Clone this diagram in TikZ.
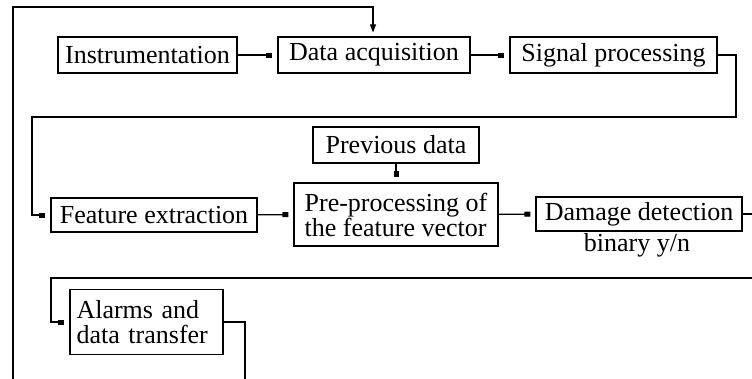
\documentclass[tikz,border=0pt]{standalone}
\usepackage{fontspec}
\setmainfont{Liberation Serif}
\usetikzlibrary{arrows.meta}
\begin{document}
\begin{tikzpicture}[x=1pt,y=-1pt,
  every node/.style={font=\fontsize{26}{28}\selectfont},
  box/.style={draw, line width=1.1pt, inner sep=3pt, minimum height=36pt},
  conn/.style={line width=1.1pt},
  mk/.style={conn, -{Rectangle[length=6pt,width=5pt]}, shorten >=5pt},
  tri/.style={conn, -{Triangle[length=8pt,width=6pt]}, shorten >=4pt}]
\clip (0,0) rectangle (752,378);
\fill[white] (0,0) rectangle (752,378);
\node[box, minimum width=179pt] (instr) at (147.5,55) {Instrumentation};
\node[box, minimum width=192pt] (daq) at (374,55) {Data acquisition};
\node[box, minimum width=207pt] (sig) at (613.5,55) {Signal processing};
\node[box, minimum width=206pt, minimum height=34pt] (feat) at (154,215) {Feature extraction};
\node[box, minimum width=166pt] (prev) at (396,145) {Previous data};
\node[box, minimum width=204pt, minimum height=63pt, align=left] (pre) at (396,214.5) {Pre-processing of\\[-3pt]the feature vector};
\node[box, minimum width=206pt, minimum height=34pt] (dmg) at (639,214) {Damage detection};
\node (bin) at (637,245) {binary y/n};
\node[box, minimum width=153pt, minimum height=65pt, align=left, text width=140pt] (alarm) at (146.5,322) {Alarms and\\[-3pt]data transfer};
% outer loop
\coordinate (ob) at (13,390);
\coordinate (ot) at (373,7);
\draw[tri] (ob) |- (ot) -- (ot |- daq.north);
\draw[mk] (instr) -- (daq);
\draw[mk] (daq) -- (sig);
\coordinate (s1) at (736,117);
\coordinate (s2) at (32,117);
\draw[mk] (sig.east) -| (s1) -- (s2) |- (feat.west);
\draw[mk] (feat) -- (pre);
\draw[mk] (prev) -- (pre);
\draw[mk] (pre) -- (dmg);
\coordinate (d1) at (51,278);
\draw[mk] (dmg.east) -- ++(30,0) |- (d1) |- (alarm.west);
\coordinate (a1) at (245,390);
\draw[conn] (alarm.east) -| (a1);
\end{tikzpicture}
\end{document}
